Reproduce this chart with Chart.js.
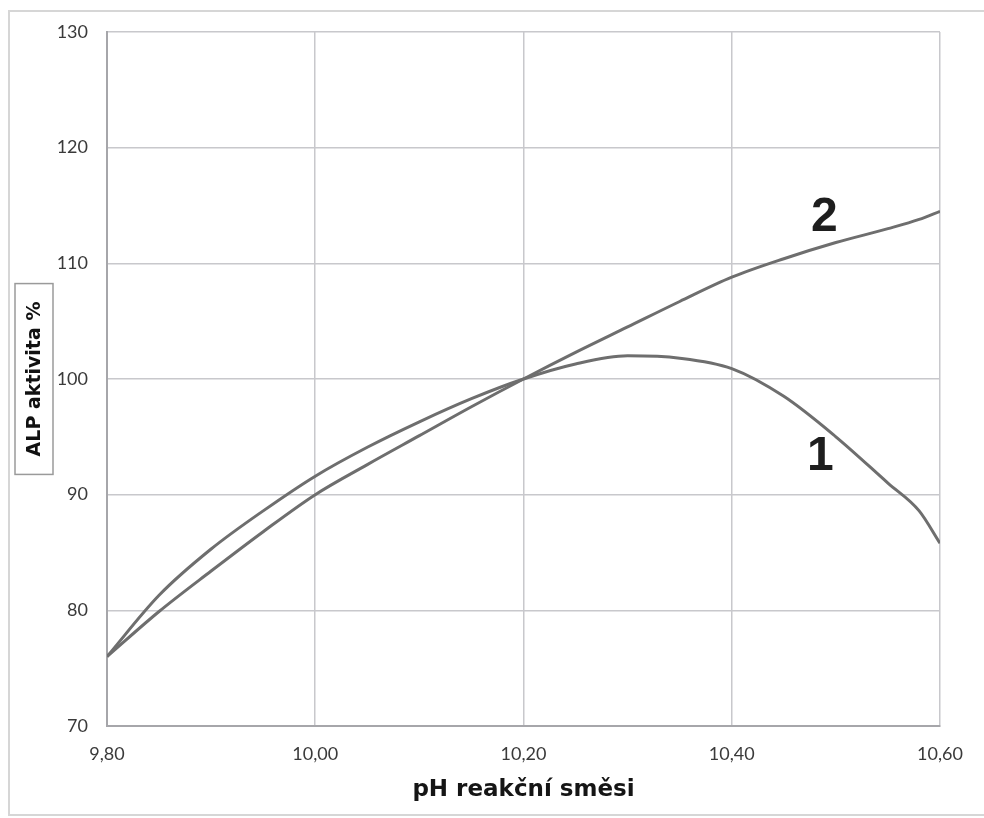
<!DOCTYPE html>
<html>
<head>
<meta charset="utf-8">
<script src="https://cdn.jsdelivr.net/npm/chart.js@4"></script>
<style>
  html, body { margin: 0; padding: 0; background: #fff; }
  #wrap { width: 984px; height: 818px; position: relative; }
</style>
</head>
<body>
<div id="wrap"><canvas id="graf"></canvas></div>
<script>
// hodnoty
const phKrivka1 = [9.80, 9.85, 9.90, 9.95, 10.00, 10.05, 10.10, 10.15, 10.20, 10.25, 10.30, 10.35, 10.40, 10.45, 10.50, 10.55, 10.58, 10.60];
const aktivita1 = [76.0, 81.3, 85.3, 88.6, 91.6, 94.1, 96.3, 98.3, 100.0, 101.3, 102.0, 101.8, 100.9, 98.5, 95.0, 91.0, 88.6, 85.8];

const phKrivka2 = [9.80, 9.85, 9.90, 9.95, 10.00, 10.05, 10.10, 10.15, 10.20, 10.25, 10.30, 10.35, 10.40, 10.45, 10.50, 10.55, 10.58, 10.60];
const aktivita2 = [76.0, 79.9, 83.4, 86.8, 90.0, 92.6, 95.1, 97.6, 100.0, 102.3, 104.5, 106.7, 108.8, 110.4, 111.8, 113.0, 113.8, 114.5];

const popiskyKrivek = ["1", "2"];
const popiskyX = [10.485, 10.489];
const popiskyY = [93.3, 113.9];

const osaXTitulek = "pH reakční směsi";
const osaYTitulek = "ALP aktivita %";

function body(xs, ys) {
    return xs.map((x, i) => ({ x: x, y: ys[i] }));
}

// popisky 1 a 2, rámeček grafu a titulek osy Y v rámečku
const doplnky = {
    id: "doplnky",
    beforeDraw(chart) {
        const ctx = chart.ctx;
        ctx.save();
        ctx.strokeStyle = "#d6d6d6";
        ctx.lineWidth = 2;
        ctx.strokeRect(9, 11, 1000, 804);
        ctx.restore();
    },
    afterDraw(chart) {
        const ctx = chart.ctx;
        const sx = chart.scales.x;
        const sy = chart.scales.y;
        ctx.save();
        ctx.fillStyle = "#1e1e1e";
        ctx.font = "bold 48px 'Liberation Sans', Arial, sans-serif";
        ctx.textAlign = "center";
        ctx.textBaseline = "middle";
        popiskyKrivek.forEach((t, i) => {
            ctx.fillText(t, sx.getPixelForValue(popiskyX[i]), sy.getPixelForValue(popiskyY[i]));
        });

        // titulek osy Y
        const cx = 34;
        const cy = 379;
        ctx.translate(cx, cy);
        ctx.rotate(-Math.PI / 2);
        ctx.font = "bold 19px 'DejaVu Sans', sans-serif";
        ctx.fillStyle = "#111";
        const w = ctx.measureText(osaYTitulek).width;
        ctx.fillText(osaYTitulek, 0, 1);
        ctx.strokeStyle = "#9a9a9a";
        ctx.lineWidth = 1.5;
        ctx.strokeRect(-w / 2 - 18, -19, w + 36, 38);
        ctx.restore();
    }
};

const carovyStyl = {
    borderColor: "#6e6e6e",
    borderWidth: 3,
    pointRadius: 0,
    fill: false,
    cubicInterpolationMode: "monotone"
};

new Chart(document.getElementById("graf").getContext("2d"), {
    type: "line",
    data: {
        datasets: [
            Object.assign({ label: "1", data: body(phKrivka1, aktivita1) }, carovyStyl),
            Object.assign({ label: "2", data: body(phKrivka2, aktivita2) }, carovyStyl)
        ]
    },
    options: {
        responsive: true,
        maintainAspectRatio: false,
        animation: false,
        layout: { padding: { left: 0, top: 32, right: 44, bottom: 0 } },
        plugins: {
            legend: { display: false },
            tooltip: { enabled: false }
        },
        scales: {
            x: {
                type: "linear",
                min: 9.8,
                max: 10.6,
                afterFit: s => { s.height = 92; },
                ticks: {
                    stepSize: 0.2,
                    padding: 17,
                    color: "#3a3a3a",
                    font: { family: "Lato, 'Open Sans', sans-serif", size: 18 },
                    callback: v => v.toFixed(2).replace(".", ",")
                },
                grid: { color: "#c8c8cc", lineWidth: 1.5, drawTicks: false },
                border: { color: "#a6a6aa", width: 2 },
                title: {
                    display: true,
                    text: osaXTitulek,
                    color: "#151515",
                    font: { family: "'DejaVu Sans', sans-serif", size: 23, weight: "bold" },
                    padding: { top: 4, bottom: 14 }
                }
            },
            y: {
                min: 70,
                max: 130,
                afterFit: s => { s.width = 107; },
                ticks: {
                    stepSize: 10,
                    padding: 19,
                    color: "#3a3a3a",
                    font: { family: "Lato, 'Open Sans', sans-serif", size: 18 }
                },
                grid: { color: "#c8c8cc", lineWidth: 1.5, drawTicks: false },
                border: { color: "#a6a6aa", width: 2 }
            }
        }
    },
    plugins: [doplnky]
});
</script>
</body>
</html>
